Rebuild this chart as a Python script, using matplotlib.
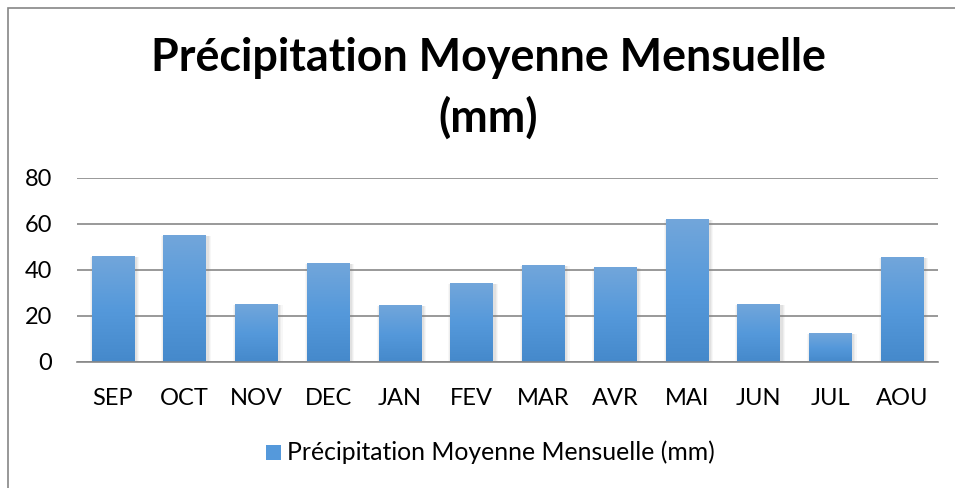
import matplotlib
matplotlib.use("Agg")
import matplotlib.pyplot as plt
import numpy as np
from matplotlib.colors import LinearSegmentedColormap
from matplotlib.patches import Rectangle

months = ["SEP", "OCT", "NOV", "DEC", "JAN", "FEV", "MAR", "AVR", "MAI", "JUN", "JUL", "AOU"]
precip = [46.0, 55.2, 25.1, 43.0, 24.7, 34.3, 42.1, 41.2, 62.2, 25.1, 12.5, 45.6]
yticks = [0, 20, 40, 60, 80]
series_name = "Précipitation Moyenne Mensuelle (mm)"
title_lines = ["Précipitation Moyenne Mensuelle", "(mm)"]

plt.rcParams['font.family'] = ['Lato', 'DejaVu Sans']

W, H = 955, 488
fig = plt.figure(figsize=(W / 100, H / 100), dpi=100)
ax = fig.add_axes([77 / W, 1 - 361.7 / H, (938 - 77) / W, (361.7 - 178) / H])

x = np.arange(len(months))
bw = 0.59
cmap = LinearSegmentedColormap.from_list("g", ["#4589CB", "#5599DB", "#72A6DA"])

# soft shadow
for k, a in [(0.10, 0.06), (0.07, 0.08), (0.04, 0.10)]:
    ax.bar(x + 0.02, np.array(precip), width=bw + k, bottom=-0.6,
           color="#808080", alpha=a, zorder=2, linewidth=0)

bars = ax.bar(x, precip, width=bw, color="#5599DB", zorder=3, linewidth=0)
grad = np.linspace(0, 1, 256).reshape(-1, 1)
for b in bars:
    x0, y0 = b.get_x(), b.get_y()
    im = ax.imshow(grad, cmap=cmap, origin="lower", aspect="auto",
                   extent=[x0, x0 + b.get_width(), y0, y0 + b.get_height()],
                   zorder=4)
    im.set_clip_path(b)

ax.set_xlim(-0.5, len(months) - 0.5)
ax.set_ylim(0, 80)
ax.set_yticks(yticks)
ax.set_xticks(x)
ax.set_xticklabels(months)
ax.tick_params(axis="both", length=0, labelsize=17, colors="#000000")
ax.tick_params(axis="y", pad=18)
ax.tick_params(axis="x", pad=19)
ax.grid(axis="y", color="#878787", linewidth=1.2, zorder=1)
ax.set_axisbelow(True)
for s in ["left", "right", "top"]:
    ax.spines[s].set_visible(False)
ax.spines["bottom"].set_color("#878787")
ax.spines["bottom"].set_linewidth(1.2)
ax.spines["bottom"].set_zorder(5)

fig.text(488 / W, 1 - 58 / H, title_lines[0], ha="center", va="center",
         fontsize=32.3, fontweight="bold")
fig.text(488 / W, 1 - 118 / H, title_lines[1], ha="center", va="center",
         fontsize=32.3, fontweight="bold")

# legend
fig.patches.append(Rectangle((266 / W, 1 - 460 / H), 15 / W, 15 / H,
                             transform=fig.transFigure, facecolor="#5599DB",
                             edgecolor="none"))
fig.text(287 / W, 1 - 452 / H, series_name, ha="left", va="center", fontsize=17.8)

# chart border (left and top visible)
fig.patches.append(Rectangle((7.5 / W, -0.1), 2.0, (1 - 7.5 / H) + 0.1,
                             transform=fig.transFigure, facecolor="none",
                             edgecolor="#868686", linewidth=1.2))

fig.savefig("out.png", dpi=100)
